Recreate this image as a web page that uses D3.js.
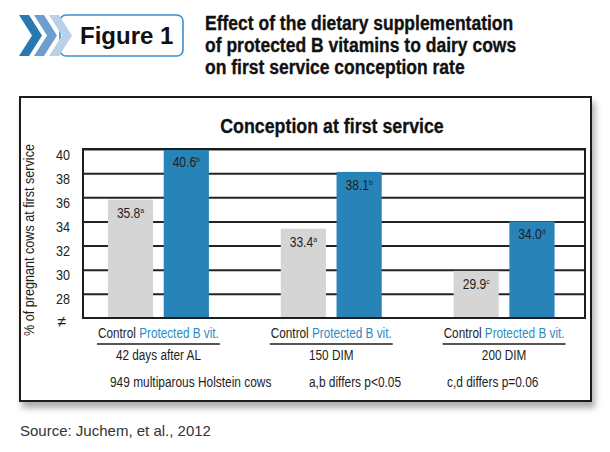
<!DOCTYPE html>
<meta charset="utf-8">
<style>
body { margin: 0; background: #fff; }
svg { font-family: "Liberation Sans", Arial, sans-serif; }
.grid .tick line { stroke: #222; stroke-width: 2; }
.grid .tick text { font-size: 14px; fill: #222; font-family: "Liberation Sans", Arial, sans-serif; }
</style>
<svg width="610" height="452"></svg>
<script src="https://d3js.org/d3.v7.min.js"></script>
<script>

// data
var groups = ["42 days after AL", "150 DIM", "200 DIM"];
var treatments = ["Control", "Protected B vit."];
var control = [35.8, 33.4, 29.9];
var protectedB = [40.6, 38.1, 34.0];
var controlSup = ["a", "a", "c"];
var protectedSup = ["b", "b", "d"];
var yTicks = [28, 30, 32, 34, 36, 38, 40];
var notes = ["949 multiparous Holstein cows", "a,b differs p<0.05", "c,d differs p=0.06"];

var svg = d3.select("svg");
var blue = "#2783b8", grey = "#d5d5d5", ink = "#1e1e1e";

// no condensed face installed, so squeeze the regular one
function squeeze(sel, k) {
  sel.each(function() {
    var w = this.getComputedTextLength();
    this.__w = w * k;
    d3.select(this).attr("textLength", w * k).attr("lengthAdjust", "spacingAndGlyphs");
  });
}

var defs = svg.append("defs");
defs.append("filter").attr("id", "shadow")
    .attr("x", "-5%").attr("y", "-5%").attr("width", "115%").attr("height", "120%")
  .append("feDropShadow")
    .attr("dx", 3).attr("dy", 6).attr("stdDeviation", 3)
    .attr("flood-color", "#777").attr("flood-opacity", 0.6);

// ---- header ----
svg.append("rect")
    .attr("x", 60).attr("y", 15).attr("width", 123).attr("height", 41).attr("rx", 6)
    .attr("fill", "#fff").attr("stroke", "#3a8fcc").attr("stroke-width", 1.6);

var chevrons = [{x: 19, c: "#2878b1"}, {x: 34, c: "#6c9fcd"}, {x: 49, c: "#b8d0e8"}];
svg.selectAll(".chev").data(chevrons.slice().reverse()).enter().append("path")
    .attr("class", "chev")
    .attr("fill", function(d) { return d.c; })
    .attr("d", function(d) {
      var x = d.x;
      return "M" + x + ",15 L" + (x + 10) + ",15 L" + (x + 23) + ",35.5 L" + (x + 10) + ",56 L" + x + ",56 L" + (x + 13) + ",35.5 Z";
    });

svg.append("text")
    .attr("x", 80).attr("y", 44)
    .style("font-weight", "bold").style("font-size", "24px")
    .attr("fill", "#111")
    .text("Figure 1");

var headLines = ["Effect of the dietary supplementation", "of protected B vitamins to dairy cows", "on first service conception rate"];
svg.append("g").selectAll("text").data(headLines).enter().append("text")
    .attr("x", 205).attr("y", function(d, i) { return 30 + i * 22; })
    .style("font-weight", "bold").style("font-size", "20px")
    .attr("fill", "#111").attr("stroke", "#111").attr("stroke-width", 0.35)
    .text(function(d) { return d; })
    .call(squeeze, 0.875);

// ---- frame ----
svg.append("rect")
    .attr("x", 20).attr("y", 97).attr("width", 571).attr("height", 304)
    .attr("fill", "#fff").attr("stroke", ink).attr("stroke-width", 2)
    .attr("filter", "url(#shadow)");

svg.append("text")
    .attr("x", 332).attr("y", 133).attr("text-anchor", "middle")
    .style("font-weight", "bold").style("font-size", "20px")
    .attr("fill", "#111").attr("stroke", "#111").attr("stroke-width", 0.3)
    .text("Conception at first service")
    .call(squeeze, 0.89);

// ---- plot ----
var pLeft = 83, pRight = 585, pTop = 149, pBottom = 318;

var y = d3.scaleLinear().domain([26, 40]).range([pBottom, pTop]);
var x0 = d3.scaleBand().domain(groups).range([72, 590.5]).padding(0);
var x1 = d3.scaleBand().domain(treatments).range([0, x0.bandwidth()])
    .paddingInner(0.19).paddingOuter(0.644);

var grid = svg.append("g").attr("class", "grid")
    .attr("transform", "translate(" + pLeft + ",0)")
    .call(d3.axisLeft(y).tickValues(yTicks).tickSize(-(pRight - pLeft)).tickPadding(13));
grid.select(".domain").remove();
grid.selectAll(".tick text").attr("dy", "0.72em").call(squeeze, 0.9);

svg.append("text")
    .attr("x", 62).attr("y", 327).attr("text-anchor", "middle")
    .style("font-size", "16px").attr("fill", ink)
    .text("\u2260");

svg.append("text")
    .attr("transform", "translate(34,240) rotate(-90)")
    .attr("text-anchor", "middle")
    .style("font-size", "14px").attr("fill", ink)
    .text("% of pregnant cows at first service")
    .call(squeeze, 0.9);

defs.append("clipPath").attr("id", "plotclip")
  .append("rect").attr("x", pLeft).attr("y", pTop).attr("width", pRight - pLeft).attr("height", pBottom - pTop);

var flat = [];
groups.forEach(function(g, i) {
  flat.push({group: g, t: treatments[0], v: control[i], sup: controlSup[i]});
  flat.push({group: g, t: treatments[1], v: protectedB[i], sup: protectedSup[i]});
});

svg.append("g").attr("clip-path", "url(#plotclip)")
  .selectAll("rect").data(flat).enter().append("rect")
    .attr("x", function(d) { return x0(d.group) + x1(d.t); })
    .attr("y", function(d) { return y(d.v); })
    .attr("width", x1.bandwidth())
    .attr("height", function(d) { return pBottom - y(d.v); })
    .attr("fill", function(d) { return d.t === treatments[0] ? grey : blue; });

svg.append("rect")
    .attr("x", pLeft).attr("y", pTop).attr("width", pRight - pLeft).attr("height", pBottom - pTop)
    .attr("fill", "none").attr("stroke", ink).attr("stroke-width", 2);

var fmt = d3.format(".1f");
var lab = svg.append("g").selectAll("text").data(flat).enter().append("text")
    .attr("x", function(d) { return x0(d.group) + x1(d.t) + x1.bandwidth() / 2; })
    .attr("y", function(d) { return Math.max(y(d.v), pTop) + 18; })
    .attr("text-anchor", "middle")
    .style("font-size", "14px").attr("fill", ink);
lab.append("tspan").text(function(d) { return fmt(d.v); });
lab.append("tspan").attr("dy", -5).style("font-size", "8px").text(function(d) { return d.sup; });
lab.call(squeeze, 0.86);

// ---- category labels ----
var cat = svg.append("g").selectAll("g").data(groups).enter().append("g")
    .attr("transform", function(d) { return "translate(" + (x0(d) + x0.bandwidth() / 2) + ",0)"; });

var tl = cat.append("text").attr("y", 338).attr("text-anchor", "middle").style("font-size", "14px");
tl.append("tspan").attr("fill", ink).text(treatments[0]);
tl.append("tspan").attr("fill", "#2b8cc6").text(" " + treatments[1]);
tl.call(squeeze, 0.84);

cat.append("line")
    .attr("y1", 344).attr("y2", 344)
    .attr("x1", function() { return -this.parentNode.querySelector("text").__w / 2 - 1; })
    .attr("x2", function() { return this.parentNode.querySelector("text").__w / 2 + 1; })
    .attr("stroke", ink).attr("stroke-width", 1.5);

cat.append("text").attr("y", 360).attr("text-anchor", "middle")
    .style("font-size", "14px").attr("fill", ink)
    .text(function(d) { return d; })
    .call(squeeze, 0.84);

var noteX = [110, 309, 447];
svg.append("g").selectAll("text").data(notes).enter().append("text")
    .attr("x", function(d, i) { return noteX[i]; }).attr("y", 387)
    .style("font-size", "14px").attr("fill", ink)
    .text(function(d) { return d; })
    .call(squeeze, 0.85);

svg.append("text")
    .attr("x", 20).attr("y", 436)
    .style("font-size", "15px").attr("fill", "#333")
    .text("Source: Juchem, et al., 2012");

</script>
